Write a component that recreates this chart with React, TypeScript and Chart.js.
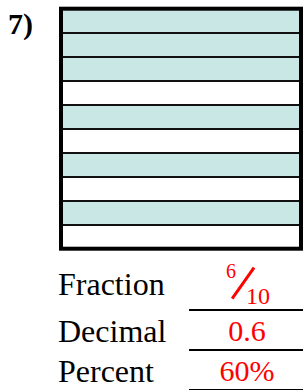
import React, { useEffect, useRef } from "react";
import { Chart, registerables } from "chart.js";

Chart.register(...registerables);

// ---- data ----
const rows = ["1", "2", "3", "4", "5", "6", "7", "8", "9", "10"];
const shaded = [1, 1, 1, 0, 1, 0, 1, 0, 1, 0];
const problemLabel = "7)";
const rowLabels = ["Fraction", "Decimal", "Percent"];
const numerator = "6";
const denominator = "10";
const decimalValue = "0.6";
const percentValue = "60%";

const SERIF = "'Liberation Serif', Tinos, 'Times New Roman', serif";
const TEAL = "#c8e7e5";

const borderPlugin = {
  id: "outerBorder",
  afterDraw(chart: any) {
    const { ctx, chartArea } = chart;
    ctx.save();
    ctx.strokeStyle = "#000";
    ctx.lineWidth = 4;
    ctx.strokeRect(chartArea.left, chartArea.top, chartArea.right - chartArea.left, chartArea.bottom - chartArea.top);
    ctx.restore();
  },
};

function Txt(props: { x: number; base: number; size: number; text: string; color?: string; bold?: boolean; center?: boolean }) {
  const { x, base, size, text, color, bold, center } = props;
  const top = base - 0.8375 * size;
  const style: any = {
    position: "absolute",
    top,
    fontFamily: SERIF,
    fontSize: size,
    lineHeight: `${size}px`,
    color: color || "#000",
    fontWeight: bold ? "bold" : "normal",
    whiteSpace: "nowrap",
  };
  if (center) {
    style.left = x - 100;
    style.width = 200;
    style.textAlign = "center";
  } else {
    style.left = x;
  }
  return <div style={style}>{text}</div>;
}

export default function App() {
  const ref = useRef<HTMLCanvasElement>(null);
  useEffect(() => {
    if (!ref.current) return;
    const chart = new Chart(ref.current, {
      type: "bar",
      data: {
        labels: rows,
        datasets: [
          {
            label: "Shaded",
            data: shaded,
            backgroundColor: TEAL,
            borderWidth: 0,
            barPercentage: 1,
            categoryPercentage: 1,
          },
        ],
      },
      options: {
        indexAxis: "y",
        responsive: false,
        animation: false,
        layout: { padding: { left: 6, top: 8.7, right: 2, bottom: 7.3 } },
        plugins: { legend: { display: false }, tooltip: { enabled: false } },
        scales: {
          x: { display: false, min: 0, max: 1 },
          y: {
            display: true,
            z: 1,
            ticks: { display: false, autoSkip: false },
            border: { display: false },
            grid: { color: "#111", lineWidth: 2, drawTicks: false, offset: true, z: 1 },
          },
        },
      } as any,
      plugins: [borderPlugin],
    });
    return () => chart.destroy();
  }, []);

  const lineStyle = (y: number): any => ({
    position: "absolute",
    left: 189,
    top: y,
    width: 114,
    height: 2,
    background: "#000",
  });

  return (
    <div style={{ position: "fixed", left: 0, top: 0, width: 303, height: 390, background: "#fff", overflow: "hidden" }}>
      <Txt x={8} base={34} size={30} text={problemLabel} bold />
      <canvas ref={ref} width={248} height={256} style={{ position: "absolute", left: 55, top: 0 }} />
      <Txt x={58} base={295} size={32} text={rowLabels[0]} />
      <Txt x={58} base={341.5} size={32} text={rowLabels[1]} />
      <Txt x={58} base={381.5} size={32} text={rowLabels[2]} />
      {/* fraction */}
      <Txt x={226} base={277.7} size={20} text={numerator} color="#f00" />
      <div
        style={{
          position: "absolute",
          left: 242.5 - 18.75,
          top: 283 - 1.25,
          width: 37.5,
          height: 2.5,
          background: "#f00",
          transform: "rotate(-54.8deg)",
        }}
      />
      <Txt x={246} base={304.3} size={24} text={denominator} color="#f00" />
      <Txt x={247} base={341.5} size={30} text={decimalValue} color="#f00" center />
      <Txt x={247} base={381.5} size={30} text={percentValue} color="#f00" center />
      <div style={lineStyle(308.5)} />
      <div style={lineStyle(348.5)} />
      <div style={lineStyle(388.5)} />
    </div>
  );
}
